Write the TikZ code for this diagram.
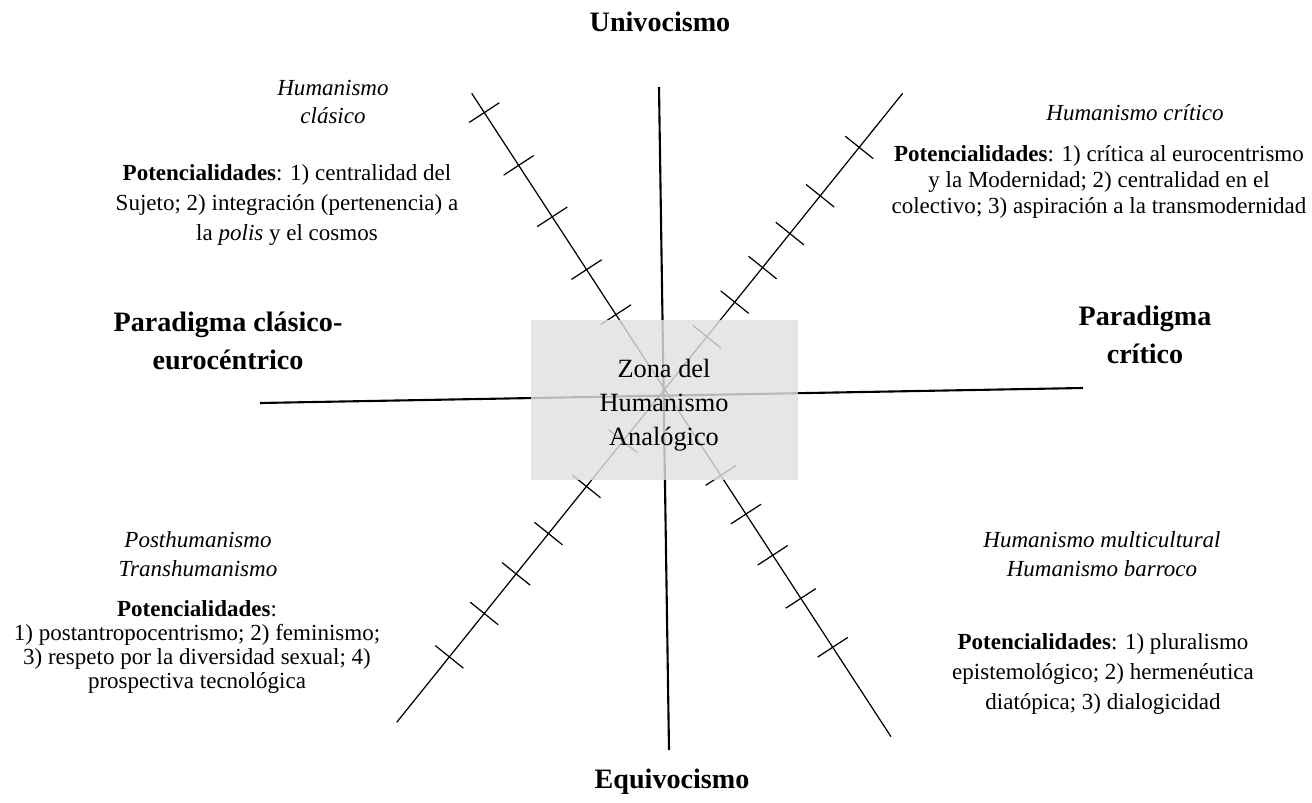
\documentclass[tikz,border=0pt]{standalone}
\usepackage{fontspec}
\setmainfont{Liberation Serif}
\usetikzlibrary{calc}

\tikzset{
  axis/.style={line width=1.2pt},
  diag/.style={line width=0.7pt},
  tick/.style={line width=0.7pt},
  pole/.style={font=\fontsize{16}{21.5}\selectfont\bfseries, align=center},
  school/.style={font=\fontsize{13.1}{16.5}\selectfont\itshape, align=center},
  potential/.style={font=\fontsize{13.1}{17}\selectfont, align=center},
  zone/.style={fill=black!12, fill opacity=0.82,
    minimum width=5.34cm, minimum height=3.2cm, inner sep=0pt},
  zonetext/.style={font=\fontsize{15}{19.3}\selectfont, align=center}
}

\begin{document}
\begin{tikzpicture}[x=0.02cm, y=-0.02cm]
\useasboundingbox (0,0) rectangle (1312,803);

% ejes
\coordinate (nn) at (659,87);
\coordinate (ss) at (669,750);
\coordinate (ww) at (260,403);
\coordinate (ee) at (1083,388);
\coordinate (nw) at (471.7,93.3);
\coordinate (se) at (891,736.7);
\coordinate (ne) at (902.7,93.3);
\coordinate (sw) at (396.7,722.3);

\draw[axis] (nn) -- (ss);
\draw[axis] (ww) -- (ee);
\draw[diag] (nw) -- (se);
\draw[diag] (ne) -- (sw);

% marcas
\foreach \p in {0.030,0.112,0.192,0.274,0.344,0.594,0.654,0.718,0.785,0.861}
  \draw[tick] ($(nw)!\p!(se)!0.36cm!90:(se)$) -- ($(nw)!\p!(se)!0.36cm!-90:(se)$);
\foreach \p in {0.086,0.163,0.223,0.277,0.332,0.387,0.553,0.625,0.700,0.764,0.827,0.896}
  \draw[tick] ($(ne)!\p!(sw)!0.36cm!90:(sw)$) -- ($(ne)!\p!(sw)!0.36cm!-90:(sw)$);

% zona central
\node[zone] (zona) at (664.5,400) {};
\node[zonetext] (zonalabel) at (664,405) {Zona del\\Humanismo\\Analógico};

% polos
\node[pole] (univ) at (660,22) {Univocismo};
\node[pole] (equiv) at (672,782) {Equivocismo};
\node[pole] (pclasico) at (228,341) {Paradigma clásico-\\eurocéntrico};
\node[pole] (pcritico) at (1145,335) {Paradigma\\crítico};

% cuadrantes
\node[school] (hclasico) at (333,102) {Humanismo\\clásico};
\node[potential] (potclasico) at (287,205) {\textbf{Potencialidades}: 1) centralidad del\\Sujeto; 2) integración (pertenencia) a\\la \textit{polis} y el cosmos};

\node[school] (hcritico) at (1135,113) {Humanismo crítico};
\node[potential, font=\fontsize{13.1}{14.7}\selectfont] (potcritico) at (1099,182) {\textbf{Potencialidades}: 1) crítica al eurocentrismo\\y la Modernidad; 2) centralidad en el\\colectivo; 3) aspiración a la transmodernidad};

\node[school] (hposthum) at (198,554) {Posthumanismo\\Transhumanismo};
\node[potential, font=\fontsize{13.1}{13.8}\selectfont] (potposthum) at (197,647) {\textbf{Potencialidades}:\\1) postantropocentrismo; 2) feminismo;\\3) respeto por la diversidad sexual; 4)\\prospectiva tecnológica};

\node[school] (hmulti) at (1102,554) {Humanismo multicultural\\Humanismo barroco};
\node[potential] (potmulti) at (1103,674) {\textbf{Potencialidades}: 1) pluralismo\\epistemológico; 2) hermenéutica\\diatópica; 3) dialogicidad};
\end{tikzpicture}
\end{document}
